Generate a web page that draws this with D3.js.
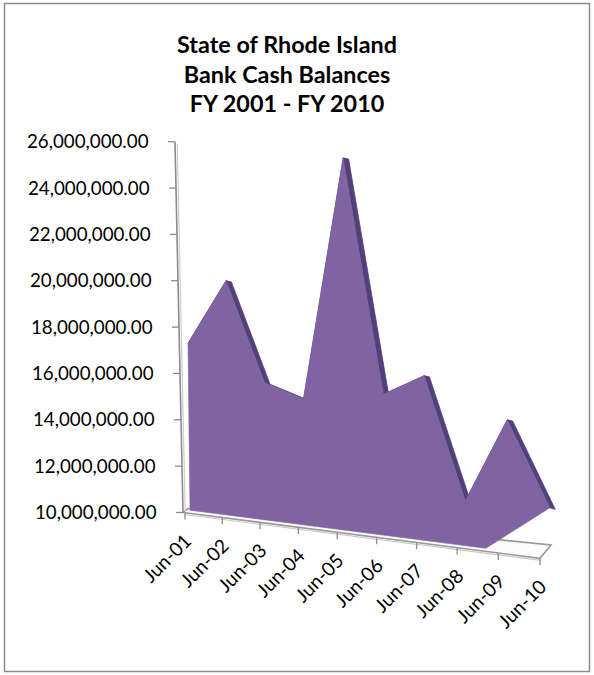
<!DOCTYPE html>
<html>
<head>
<meta charset="utf-8">
<script src="https://cdn.jsdelivr.net/npm/d3@7"></script>
<style>
  html, body { margin: 0; padding: 0; background: #ffffff; }
  svg { display: block; }
  text { font-family: Lato, "Open Sans", "Liberation Sans", sans-serif; fill: #000; }
</style>
</head>
<body>
<svg id="chart" width="594" height="675"></svg>
<script>
// ---- data ----
const titleLines = ["State of Rhode Island", "Bank Cash Balances", "FY 2001 - FY 2010"];
const categories = ["Jun-01", "Jun-02", "Jun-03", "Jun-04", "Jun-05", "Jun-06", "Jun-07", "Jun-08", "Jun-09", "Jun-10"];
const balances = [17.3e6, 20.0e6, 15.6e6, 14.9e6, 25.3e6, 15.1e6, 15.9e6, 10.5e6, 14.0e6, 10.2e6];
const yTickValues = [10e6, 12e6, 14e6, 16e6, 18e6, 20e6, 22e6, 24e6, 26e6];

// ---- layout ----
const svg = d3.select("#chart");

svg.append("rect").attr("x", 4.5).attr("y", 3.5).attr("width", 585).attr("height", 668)
  .attr("fill", "#fff").attr("stroke", "#8c8c8c").attr("stroke-width", 1.5);

// value scale (left wall) and lean of the wall edge
const y = d3.scaleLinear().domain([10e6, 26e6]).range([512.5, 141.7]);
const wallX = d3.scaleLinear().domain([10e6, 26e6]).range([183, 175]);

// category positions with a slight perspective stretch toward the right
const idx = d3.scaleLinear().domain([0, categories.length - 1]).range([0, 1]);
const persp = 0.062;
const warp = t => t * (1 - persp) / (1 - persp * t);
const xPix = d3.scaleLinear().domain([0, 1]).range([185, 540]);
const xFloor = i => xPix(warp(idx(i)));
const xTop = i => xFloor(i) + 3 + 0.75 * i;
const floorSlope = d3.scaleLinear().domain([185, 540]).range([512.5, 558.3]);
const fy = x => floorSlope(x);

// ---- floor slab ----
const floorPts = [[183, 512.5], [540, fy(540)], [551, 545], [188, 508.5]];
svg.append("path")
  .attr("d", d3.line()(floorPts) + "Z")
  .attr("fill", "#fbfbfb").attr("stroke", "#9a9a9a").attr("stroke-width", 1.6);
svg.append("path")
  .attr("d", d3.line()([[184, 514.5], [541, fy(541) + 2]]))
  .attr("fill", "none").attr("stroke", "#c9c9c9").attr("stroke-width", 1.2);

// category ticks
svg.append("g").selectAll("line").data(categories).join("line")
  .attr("x1", (d, i) => xFloor(i)).attr("x2", (d, i) => xFloor(i))
  .attr("y1", (d, i) => fy(xFloor(i))).attr("y2", (d, i) => fy(xFloor(i)) + 7)
  .attr("stroke", "#8c8c8c").attr("stroke-width", 1.3);

// ---- value wall edge ----
svg.append("line")
  .attr("x1", wallX(26e6)).attr("y1", y(26e6)).attr("x2", wallX(10e6)).attr("y2", y(10e6))
  .attr("stroke", "#8c8c8c").attr("stroke-width", 1.6);
svg.append("line")
  .attr("x1", wallX(26e6) + 2.2).attr("y1", y(26e6) + 2).attr("x2", wallX(10e6) + 2.2).attr("y2", y(10e6) - 1)
  .attr("stroke", "#cfcfcf").attr("stroke-width", 1.2);
svg.append("g").selectAll("line").data(yTickValues).join("line")
  .attr("x1", d => wallX(d) - 7).attr("x2", d => wallX(d))
  .attr("y1", d => y(d)).attr("y2", d => y(d))
  .attr("stroke", "#8c8c8c").attr("stroke-width", 1.3);

// ---- area with 3D top strip ----
const topPts = balances.map((v, i) => [xTop(i), y(v)]);
const depth = [5.5, 1.5];
const strips = svg.append("g");
for (let i = 0; i < topPts.length - 1; i++) {
  const a = topPts[i], b = topPts[i + 1];
  strips.append("path")
    .attr("d", d3.line()([a, b, [b[0] + depth[0], b[1] + depth[1]], [a[0] + depth[0], a[1] + depth[1]]]) + "Z")
    .attr("fill", "#52407a").attr("stroke", "#52407a").attr("stroke-width", 0.8);
}
const endCut = 7.7;
const baseRight = [xFloor(endCut), fy(xFloor(endCut)) - 3];
const baseLeft = [xTop(0) + 2, fy(xTop(0) + 2) - 3];
const areaPts = topPts.concat([baseRight, baseLeft]);
svg.append("path")
  .attr("d", d3.line()(areaPts) + "Z")
  .attr("fill", "#8064a2").attr("stroke", "#8064a2").attr("stroke-width", 0.6);

// ---- text ----
const fmt = d3.format(",.2f");
const yLabels = svg.append("g").selectAll("text").data(yTickValues).join("text")
  .attr("x", d => wallX(d) - 26.5).attr("y", d => y(d))
  .attr("dy", "0.35em").attr("text-anchor", "end")
  .style("font-size", "17px")
  .text(d => fmt(d));
// fit font size to reference label width
const w26 = yLabels.filter(d => d === 26e6).node().getComputedTextLength();
const labelSize = 17 * 121.6 / w26;
yLabels.style("font-size", labelSize + "px");

svg.append("g").selectAll("text").data(categories).join("text")
  .attr("transform", (d, i) => {
    const x = xFloor(i) + 3, yy = fy(xFloor(i)) + 25;
    return `translate(${x},${yy}) rotate(-45)`;
  })
  .attr("text-anchor", "end").attr("dy", "0.35em")
  .style("font-size", (labelSize + 0.5) + "px")
  .text(d => d);

const title = svg.append("g").selectAll("text").data(titleLines).join("text")
  .attr("x", 287).attr("y", (d, i) => 53.3 + i * 29.2)
  .attr("text-anchor", "middle").style("font-weight", "bold").style("font-size", "21px")
  .text(d => d);
const tw = title.filter((d, i) => i === 0).node().getComputedTextLength();
title.style("font-size", (21 * 220 / tw) + "px");
</script>
</body>
</html>
